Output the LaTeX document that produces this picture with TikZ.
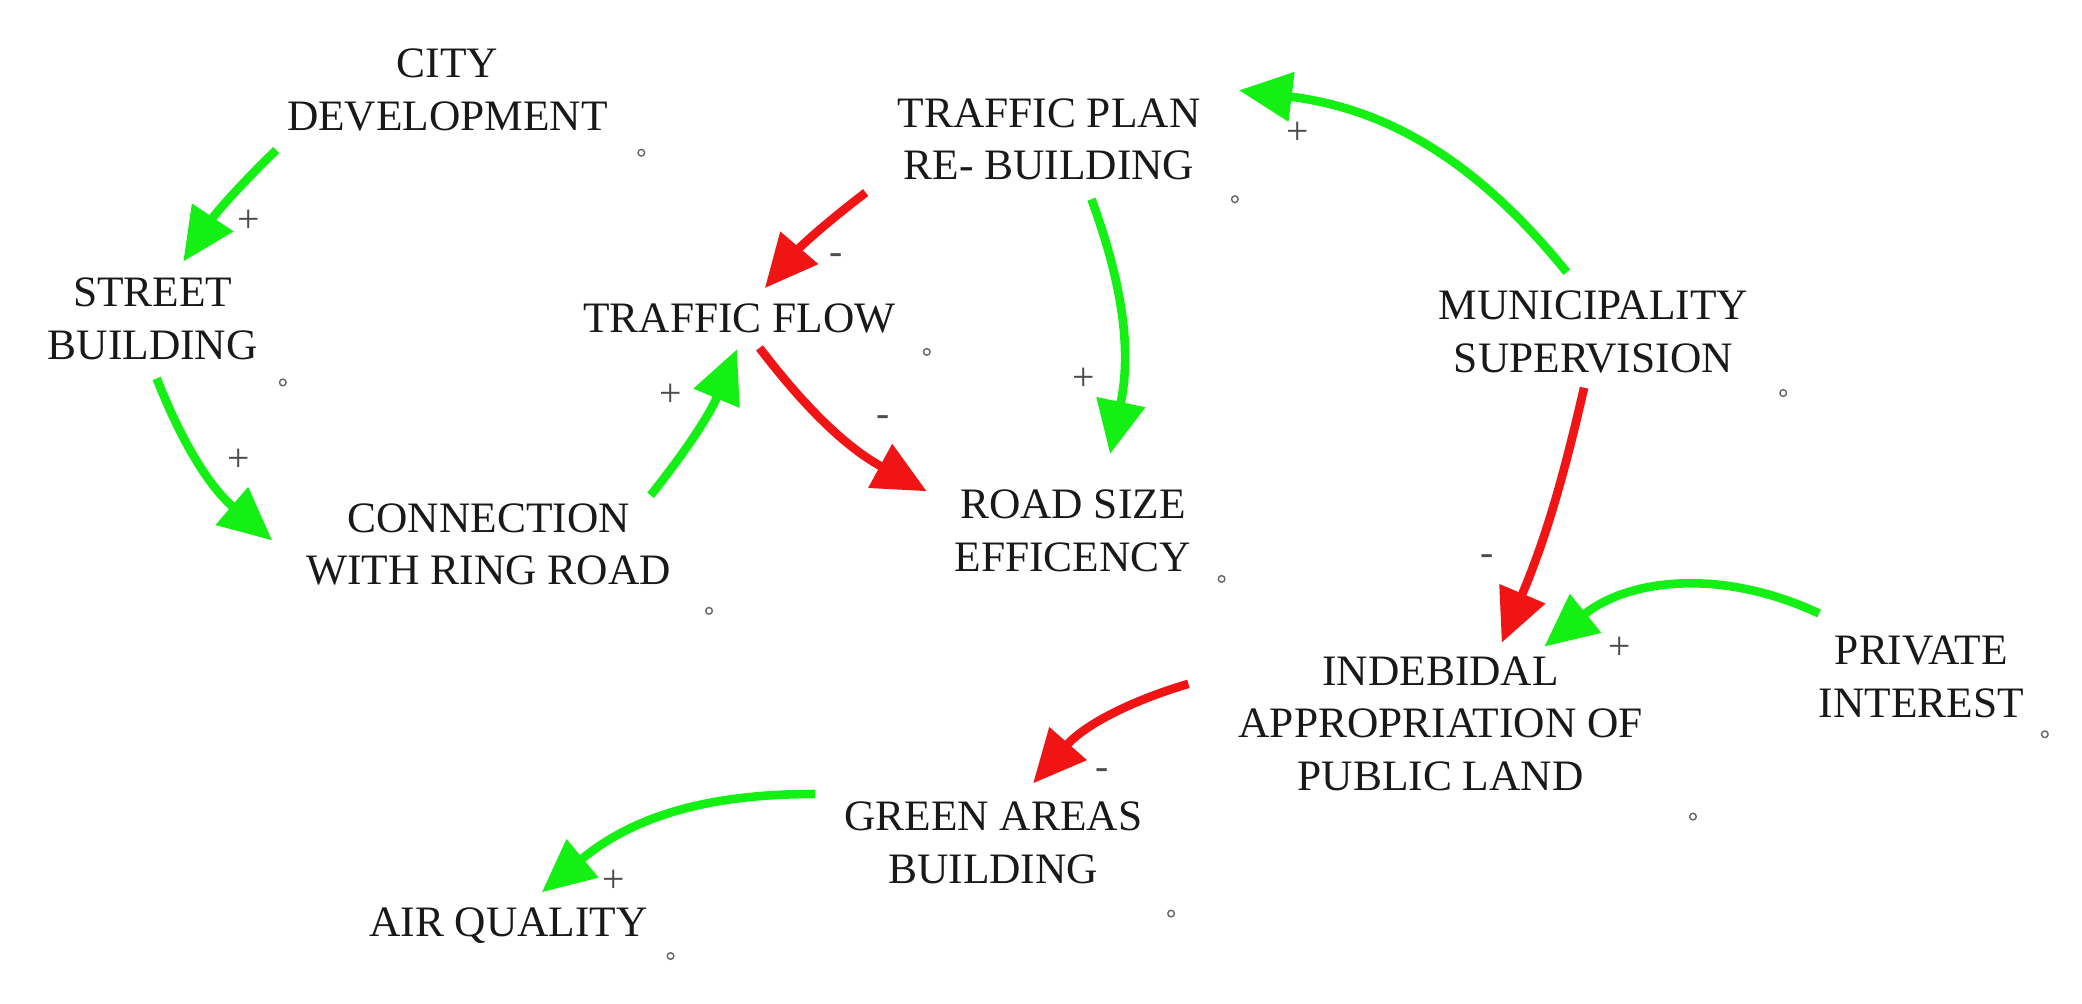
\documentclass[tikz,border=0pt]{standalone}
\usepackage{fontspec}
\setmainfont{Liberation Serif}
\usetikzlibrary{arrows.meta}
\definecolor{lg}{RGB}{20,240,20}
\definecolor{lr}{RGB}{240,20,20}
\begin{document}
\begin{tikzpicture}[x=0.01cm,y=-0.01cm,
  lbl/.style={align=center,font=\fontsize{9.3pt}{11.3pt}\selectfont,inner sep=0pt,text=black!90},
  sgn/.style={font=\fontsize{8.5pt}{8.5pt}\selectfont,inner sep=0pt,text=black!70},
  mk/.style={circle,draw=black!60,line width=0.3pt,inner sep=0pt,minimum size=0.05cm},
  lnk/.style={line width=0.065cm,-{Triangle[length=0.4cm,width=0.36cm]}},
  poslink/.style={lnk,draw=lg},
  neglink/.style={lnk,draw=lr}]
\useasboundingbox (0,0) rectangle (1568,756);
\node[lbl] (cd) at (337,68) {CITY\\DEVELOPMENT};
\node[lbl] (tp) at (790,105) {TRAFFIC PLAN\\RE- BUILDING};
\node[lbl] (sb) at (115,240) {STREET\\BUILDING};
\node[lbl] (tf) at (557,240) {TRAFFIC FLOW};
\node[lbl] (ms) at (1200,250) {MUNICIPALITY\\SUPERVISION};
\node[lbl] (cr) at (368,410) {CONNECTION\\WITH RING ROAD};
\node[lbl] (rs) at (808,400) {ROAD SIZE\\EFFICENCY};
\node[lbl] (ia) at (1085,545) {INDEBIDAL\\APPROPRIATION OF\\PUBLIC LAND};
\node[lbl] (pi) at (1447,510) {PRIVATE\\INTEREST};
\node[lbl] (ga) at (748,635) {GREEN AREAS\\BUILDING};
\node[lbl] (aq) at (383,697) {AIR QUALITY};
\foreach \p/\n in {{(483,115)}/m1,{(930,150)}/m2,{(213,288)}/m3,{(698,265)}/m4,{(1343,296)}/m5,{(534,460)}/m6,{(920,436)}/m7,{(1540,553)}/m8,{(1275,615)}/m9,{(882,688)}/m10,{(505,720)}/m11}
  \node[mk] (\n) at \p {};
\coordinate (a1) at (208,113); \coordinate (b1) at (138,197);
\coordinate (a2) at (118,285); \coordinate (b2) at (205,407);
\coordinate (a3) at (490,373); \coordinate (b3) at (555,263);
\coordinate (a4) at (652,145); \coordinate (b4) at (576,217);
\coordinate (a5) at (572,262); \coordinate (b5) at (698,370);
\coordinate (a6) at (822,150); \coordinate (b6) at (836,342);
\coordinate (a7) at (1180,205); \coordinate (b7) at (933,68);
\coordinate (a8) at (1193,292); \coordinate (b8) at (1131,484);
\coordinate (a9) at (1370,462); \coordinate (b9) at (1163,487);
\coordinate (a10) at (895,515); \coordinate (b10) at (778,590);
\coordinate (a11) at (614,598); \coordinate (b11) at (408,672);
\draw[poslink] (a1) to[bend right=6] (b1);
\draw[poslink] (a2) to[bend right=14] (b2);
\draw[poslink] (a3) to[bend right=8] (b3);
\draw[neglink] (a4) to[bend right=6] (b4);
\draw[neglink] (a5) to[bend right=12] (b5);
\draw[poslink] (a6) to[bend left=16] (b6);
\draw[poslink] (a7) to[bend right=22] (b7);
\draw[neglink] (a8) to[bend left=5] (b8);
\draw[poslink] (a9) to[bend right=32] (b9);
\draw[neglink] (a10) to[bend right=16] (b10);
\draw[poslink] (a11) to[bend right=20] (b11);
\node[sgn] (s1) at (187,167) {+};
\node[sgn] (s2) at (180,347) {+};
\node[sgn] (s3) at (505,298) {+};
\node[sgn] (s4) at (630,195) {-};
\node[sgn] (s5) at (665,317) {-};
\node[sgn] (s6) at (816,286) {+};
\node[sgn] (s7) at (977,100) {+};
\node[sgn] (s8) at (1120,422) {-};
\node[sgn] (s9) at (1220,488) {+};
\node[sgn] (s10) at (830,583) {-};
\node[sgn] (s11) at (462,664) {+};
\end{tikzpicture}
\end{document}
